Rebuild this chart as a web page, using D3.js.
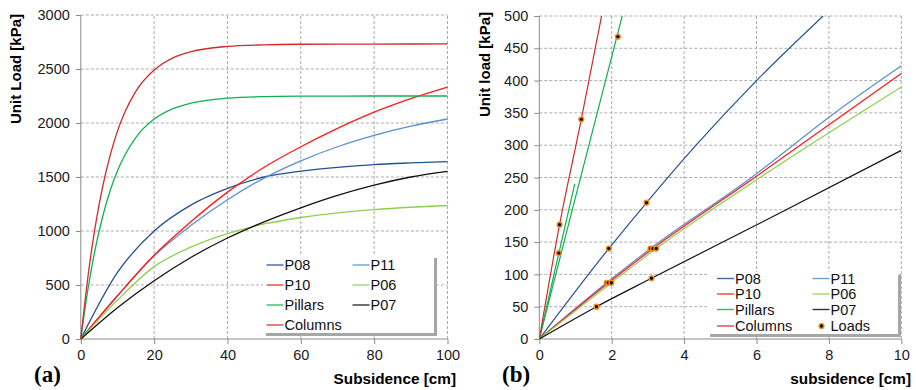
<!DOCTYPE html>
<html>
<head>
<meta charset="utf-8">
<script src="https://cdn.jsdelivr.net/npm/d3@7"></script>
<style>
  body { margin: 0; background: #fff; }
  svg { display: block; font-family: "Liberation Sans", Arial, sans-serif; }
  .grid line { stroke: #ababab; stroke-dasharray: 3,2; }
  .axis path, .axis line { stroke: #8a8a8a; }
  .axis text { font-family: "Liberation Sans", Arial, sans-serif; font-size: 14.5px; fill: #1a1a1a; }
</style>
</head>
<body>
<svg id="chart" width="916" height="390"></svg>
<script>
// (a) load-subsidence curves
const subsFine = [0, 2, 4, 6, 8, 10, 12, 15, 20, 25, 30, 40, 50, 60, 80, 100];
const columnsA = [0, 590, 1054, 1417, 1700, 1925, 2099, 2293, 2490, 2601, 2660, 2709, 2724, 2729, 2731, 2732];
const pillarsA = [0, 473, 844, 1139, 1373, 1558, 1701, 1865, 2036, 2131, 2184, 2230, 2244, 2248, 2250, 2250];
const subsCoarse = [0, 10, 20, 30, 40, 50, 60, 70, 80, 90, 100];
const p08A = [0, 616, 1000, 1240, 1395, 1500, 1555, 1590, 1615, 1630, 1642];
const p11A = [0, 400, 770, 1050, 1290, 1490, 1650, 1780, 1885, 1970, 2037];
const p10A = [0, 400, 775, 1085, 1360, 1590, 1780, 1950, 2100, 2225, 2332];
const p06A = [0, 360, 670, 850, 975, 1065, 1125, 1168, 1198, 1220, 1236];
const p07A = [0, 290, 540, 755, 935, 1085, 1215, 1330, 1425, 1500, 1552];

// (b) initial branch, first centimetres
const p08BX = [0, 1.92, 2.8, 4.33, 6.0, 7.84];
const p08BY = [0, 140, 200, 300, 400, 500];
const p11BX = [0, 1.86, 3.07, 5.86, 8.16, 10];
const p11BY = [0, 87, 140, 250, 350, 423];
const p10BX = [0, 1.91, 3.14, 5.95, 10];
const p10BY = [0, 87, 140, 250, 411];
const p06BX = [0, 1.99, 3.23, 6.1, 10];
const p06BY = [0, 87, 140, 250, 390];
const p07BX = [0, 1.58, 3.10, 6.82, 10];
const p07BY = [0, 50, 94, 200, 292];
const pillarsBX = [0, 0.91, 2.29];
const pillarsBY = [0, 200, 500];
const pillarsShortBX = [0, 0.54, 0.98];
const pillarsShortBY = [0, 133, 240];
const columnsBX = [0, 0.56, 1.16, 1.72];
const columnsBY = [0, 177, 340, 500];
const loadX = [0.56, 1.16, 0.54, 2.17, 1.92, 2.96, 1.86, 1.91, 1.99, 3.07, 3.14, 3.23, 3.10, 1.58];
const loadY = [177, 340, 133, 468, 140, 211, 87, 87, 87, 140, 140, 140, 94, 50];

const colors = {
  P08: "#24508e", P11: "#5a8fd2", P10: "#ff1a1a", P06: "#8ed04e",
  Pillars: "#10b050", P07: "#111111", Columns: "#d02a2a"
};

const svg = d3.select("#chart");

function frame(x, y, xTicks, yTicks) {
  const g = svg.append("g");
  const [x0, x1] = x.range(), [y0, y1] = y.range();
  g.append("g").attr("class", "grid").selectAll("line.v")
    .data(xTicks.slice(1)).join("line")
    .attr("x1", d => x(d)).attr("x2", d => x(d)).attr("y1", y0).attr("y2", y1);
  g.append("g").attr("class", "grid").selectAll("line.h")
    .data(yTicks.slice(1)).join("line")
    .attr("y1", d => y(d)).attr("y2", d => y(d)).attr("x1", x0).attr("x2", x1);
  g.append("g").attr("class", "axis").attr("transform", `translate(0,${y0})`)
    .call(d3.axisBottom(x).tickValues(xTicks).tickFormat(d3.format("d"))
      .tickSize(5).tickPadding(6).tickSizeOuter(0))
    .call(a => a.select(".domain").attr("d", `M${x0},0H${x1}`));
  g.append("g").attr("class", "axis").attr("transform", `translate(${x0},0)`)
    .call(d3.axisLeft(y).tickValues(yTicks).tickFormat(d3.format("d"))
      .tickSize(5).tickPadding(6).tickSizeOuter(0))
    .call(a => a.select(".domain").attr("d", `M0,${y0}V${y1}`));
  return g;
}

function legend(x0, y0, w, h, names, cols, rows) {
  const g = svg.append("g");
  g.append("rect").attr("x", x0 + 3).attr("y", y0 + 3).attr("width", w).attr("height", h)
    .attr("fill", "#a6a6a6");
  g.append("rect").attr("x", x0).attr("y", y0).attr("width", w).attr("height", h)
    .attr("fill", "#fff");
  names.forEach((name, i) => {
    const cx = cols[Math.floor(i / rows.length)], cy = rows[i % rows.length];
    if (name === "Loads") {
      g.append("circle").attr("cx", cx + 9).attr("cy", cy).attr("r", 2.4)
        .attr("fill", "#111").attr("stroke", "#f08a24").attr("stroke-width", 1.4);
    } else {
      g.append("line").attr("x1", cx).attr("x2", cx + 17).attr("y1", cy).attr("y2", cy)
        .attr("stroke", colors[name]).attr("stroke-width", 1.4).attr("opacity", 0.85);
    }
    g.append("text").attr("x", cx + 18).attr("y", cy).attr("dy", "0.36em")
      .attr("font-size", "14.5px").attr("fill", "#111").text(name);
  });
}

// ---------- panel (a) ----------
const xa = d3.scaleLinear().domain([0, 100]).range([80.8, 447.5]);
const ya = d3.scaleLinear().domain([0, 3000]).range([339, 15]);
frame(xa, ya, d3.range(0, 101, 20), d3.range(0, 3001, 500));

const curvesA = [
  ["P08", subsCoarse, p08A], ["P11", subsCoarse, p11A], ["P10", subsCoarse, p10A],
  ["P06", subsCoarse, p06A], ["P07", subsCoarse, p07A],
  ["Pillars", subsFine, pillarsA], ["Columns", subsFine, columnsA]
];
const lineA = d3.line().x(d => xa(d[0])).y(d => ya(d[1])).curve(d3.curveMonotoneX);
curvesA.forEach(([name, xs, ys]) => {
  svg.append("path").attr("d", lineA(xs.map((v, i) => [v, ys[i]])))
    .attr("fill", "none").attr("stroke", colors[name]).attr("stroke-width", 1.3);
});

legend(263, 255, 171, 78, ["P08", "P10", "Pillars", "Columns", "P11", "P06", "P07"],
  [266.5, 352.5], [265, 285, 305, 325]);

svg.append("text").attr("transform", "translate(21,69) rotate(-90)")
  .attr("text-anchor", "middle").attr("font-size", "15px").attr("font-weight", "bold")
  .text("Unit Load [kPa]");
svg.append("text").attr("x", 456).attr("y", 384).attr("text-anchor", "end")
  .attr("font-size", "15.3px").attr("font-weight", "bold").text("Subsidence [cm]");
svg.append("text").attr("x", 34).attr("y", 382)
  .attr("font-family", "Liberation Serif, Times New Roman, serif")
  .attr("font-size", "23px").attr("font-weight", "bold").text("(a)");

// ---------- panel (b) ----------
const xb = d3.scaleLinear().domain([0, 10]).range([539.3, 901.3]);
const yb = d3.scaleLinear().domain([0, 500]).range([339, 16]);
frame(xb, yb, d3.range(0, 11, 2), d3.range(0, 501, 50));

svg.append("clipPath").attr("id", "clipB").append("rect")
  .attr("x", xb(0)).attr("y", yb(500)).attr("width", xb(10) - xb(0)).attr("height", yb(0) - yb(500));
const gb = svg.append("g").attr("clip-path", "url(#clipB)");
const lineB = d3.line().x(d => xb(d[0])).y(d => yb(d[1])).curve(d3.curveMonotoneX);
const curvesB = [
  ["P08", p08BX, p08BY], ["P11", p11BX, p11BY], ["P10", p10BX, p10BY],
  ["P06", p06BX, p06BY], ["P07", p07BX, p07BY],
  ["Pillars", pillarsBX, pillarsBY], ["Pillars", pillarsShortBX, pillarsShortBY],
  ["Columns", columnsBX, columnsBY]
];
curvesB.forEach(([name, xs, ys]) => {
  gb.append("path").attr("d", lineB(xs.map((v, i) => [v, ys[i]])))
    .attr("fill", "none").attr("stroke", colors[name]).attr("stroke-width", 1.2);
});
gb.selectAll("circle").data(loadX.map((v, i) => [v, loadY[i]])).join("circle")
  .attr("cx", d => xb(d[0])).attr("cy", d => yb(d[1])).attr("r", 2.4)
  .attr("fill", "#111").attr("stroke", "#f08a24").attr("stroke-width", 1.4);

legend(707, 272, 191, 62, ["P08", "P10", "Pillars", "Columns", "P11", "P06", "P07", "Loads"],
  [717, 812.5], [278.5, 294, 309.5, 326]);

svg.append("text").attr("transform", "translate(490,64.5) rotate(-90)")
  .attr("text-anchor", "middle").attr("font-size", "15px").attr("font-weight", "bold")
  .text("Unit load [kPa]");
svg.append("text").attr("x", 911).attr("y", 384).attr("text-anchor", "end")
  .attr("font-size", "15.3px").attr("font-weight", "bold").text("subsidence [cm]");
svg.append("text").attr("x", 502).attr("y", 382)
  .attr("font-family", "Liberation Serif, Times New Roman, serif")
  .attr("font-size", "23px").attr("font-weight", "bold").text("(b)");
</script>
</body>
</html>
